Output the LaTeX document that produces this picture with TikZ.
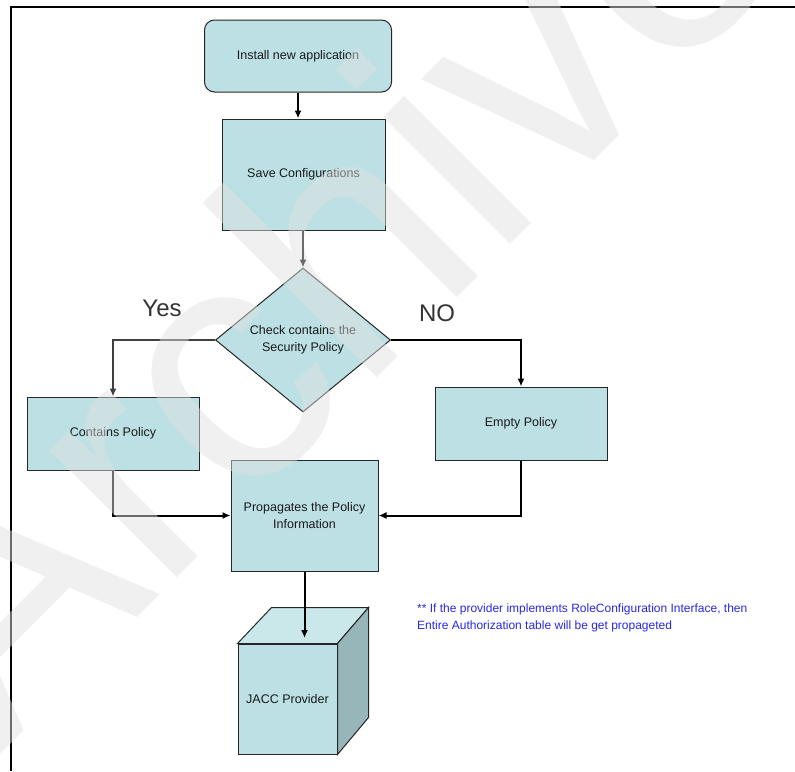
\documentclass[tikz,border=0pt]{standalone}
\usepackage{fontspec}
\setmainfont{Liberation Sans}
\usetikzlibrary{shapes.geometric, arrows.meta, calc}

\definecolor{boxfill}{RGB}{188,224,228}
\definecolor{cubetop}{RGB}{202,231,234}
\definecolor{cubeside}{RGB}{150,182,185}
\definecolor{notetext}{RGB}{40,40,225}
\definecolor{wmark}{RGB}{224,224,224}

\begin{document}
\begin{tikzpicture}[x=1pt, y=-1pt,
    >={Latex[length=8pt, width=7pt]},
    box/.style={rectangle, draw=black!85, line width=1pt, fill=boxfill,
      font=\fontsize{12.5}{17}\selectfont, text=black!90, align=center, inner sep=2pt},
    flow/.style={->, line width=2pt, black},
    answer/.style={font=\fontsize{24}{24}\selectfont, text=black!80},
    note/.style={font=\fontsize{12}{17}\selectfont, text=notetext, align=left, inner sep=0pt}]
  \useasboundingbox (0,0) rectangle (795,771);

  % --- Frame ---
  \draw[line width=1.2pt] (795,7) -- (11,7) -- (11,771);

  % --- Flow boxes ---
  \node[box, rounded corners=10pt, minimum width=187pt, minimum height=72pt]
    (install) at (298,56) {Install new application};
  \node[box, minimum width=163pt, minimum height=111pt]
    (save) at (303.5,174.5) {Save Configurations};
  \node[box, diamond, aspect=1.2, minimum width=175pt, minimum height=144pt, inner sep=0pt]
    (check) at (303,340) {Check contains the\\Security Policy};
  \node[box, minimum width=172pt, minimum height=73pt]
    (contains) at (113,433.5) {Contains Policy};
  \node[box, minimum width=172pt, minimum height=73pt]
    (empty) at (521,423.5) {Empty Policy};
  \node[box, minimum width=147pt, minimum height=111pt]
    (prop) at (304.5,515.5) {Propagates the Policy\\Information};

  % --- Provider cube ---
  \node[box, minimum width=99pt, minimum height=110pt]
    (prov) at (287.5,699) {JACC Provider};
  \filldraw[fill=cubetop, draw=black!85, line width=1pt]
    (prov.north west) -- ($(prov.north west)+(34,-36)$)
    -- ($(prov.north east)+(31,-36)$) -- (prov.north east) -- cycle;
  \filldraw[fill=cubeside, draw=black!85, line width=1pt]
    (prov.north east) -- ($(prov.north east)+(31,-36)$)
    -- ($(prov.south east)+(31,-37)$) -- (prov.south east) -- cycle;

  % --- Answers ---
  \node[answer] (yes) at (162,308) {Yes};
  \node[answer] (no) at (437,313) {NO};

  % --- Connectors ---
  \draw[flow] (install.south) -- (install.south |- save.north);
  \draw[flow] (save.south -| check.north) -- (check.north);
  \draw[->, line width=1.3pt, black!75] (check.west) -| (contains.north);
  \draw[flow] (check.east) -| (empty.north);
  \draw[flow] (contains.south) |- (prop.west);
  \draw[flow] (empty.south) |- (prop.east);
  \coordinate (provtop) at (304.5,638);
  \draw[flow] (prop.south) -- (provtop);

  % --- Note ---
  \node[note, anchor=north west] (remark) at (417,604)
    {** If the provider implements RoleConfiguration Interface, then\\
     Entire Authorization table will be get propageted};

  % --- Watermark ---
  \begin{scope}
    \clip (0,0) rectangle (795,771);
    \node[anchor=base west, rotate=45, text=wmark, text opacity=0.48, inner sep=0pt,
      font=\fontsize{340}{340}\selectfont] (wm) at (0,755) {Archive};
  \end{scope}
\end{tikzpicture}
\end{document}
